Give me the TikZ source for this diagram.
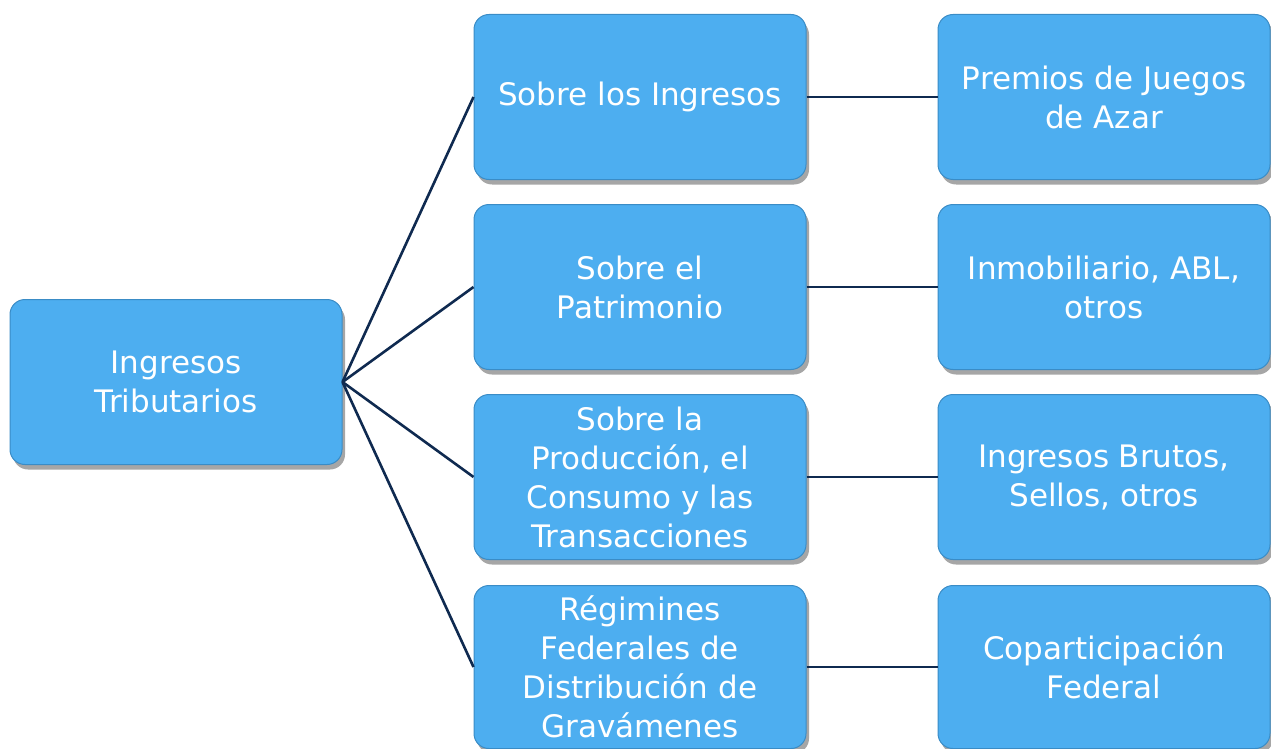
\documentclass[tikz,border=0pt]{standalone}
\usepackage{fontspec}
\setmainfont{DejaVu Sans}
\usetikzlibrary{shadows}
\definecolor{boxblue}{HTML}{4DAEF0}
\definecolor{boxedge}{HTML}{3A8CC6}
\definecolor{linknavy}{HTML}{0F2A50}
\begin{document}
\begin{tikzpicture}[x=1pt,y=-1pt,
        cajita/.style={rectangle, rounded corners=15pt, fill=boxblue, draw=boxedge, line width=1pt,
                minimum width=332pt, minimum height=165pt, inner sep=2pt, align=center,
                text=white, font=\fontsize{31}{39}\selectfont,
                drop shadow={shadow xshift=3pt, shadow yshift=-5pt, opacity=0.35, fill=black}},
        enlace/.style={draw=linknavy, line width=2.6pt}]
        \useasboundingbox (0,0) rectangle (1271,749);
        \node (ing) at (176,382) [cajita] {Ingresos\\Tributarios};
        \node (sing) at (640,97) [cajita] {Sobre los Ingresos};
        \node (spat) at (640,287) [cajita] {Sobre el\\Patrimonio};
        \node (sprod) at (640,477) [cajita] {Sobre la\\Producción, el\\Consumo y las\\Transacciones};
        \node (reg) at (640,667) [cajita, minimum height=163pt] {Régimines\\Federales de\\Distribución de\\Gravámenes};
        \node (prem) at (1104,97) [cajita] {Premios de Juegos\\de Azar};
        \node (inmo) at (1104,287) [cajita] {Inmobiliario, ABL,\\otros};
        \node (ibru) at (1104,477) [cajita] {Ingresos Brutos,\\Sellos, otros};
        \node (copa) at (1104,667) [cajita, minimum height=163pt] {Coparticipación\\Federal};
        \draw[enlace] (ing.east) -- (sing.west);
        \draw[enlace] (ing.east) -- (spat.west);
        \draw[enlace] (ing.east) -- (sprod.west);
        \draw[enlace] (ing.east) -- (reg.west);
        \draw[enlace] (sing.east) -- (prem.west);
        \draw[enlace] (spat.east) -- (inmo.west);
        \draw[enlace] (sprod.east) -- (ibru.west);
        \draw[enlace] (reg.east) -- (copa.west);
\end{tikzpicture}
\end{document}
